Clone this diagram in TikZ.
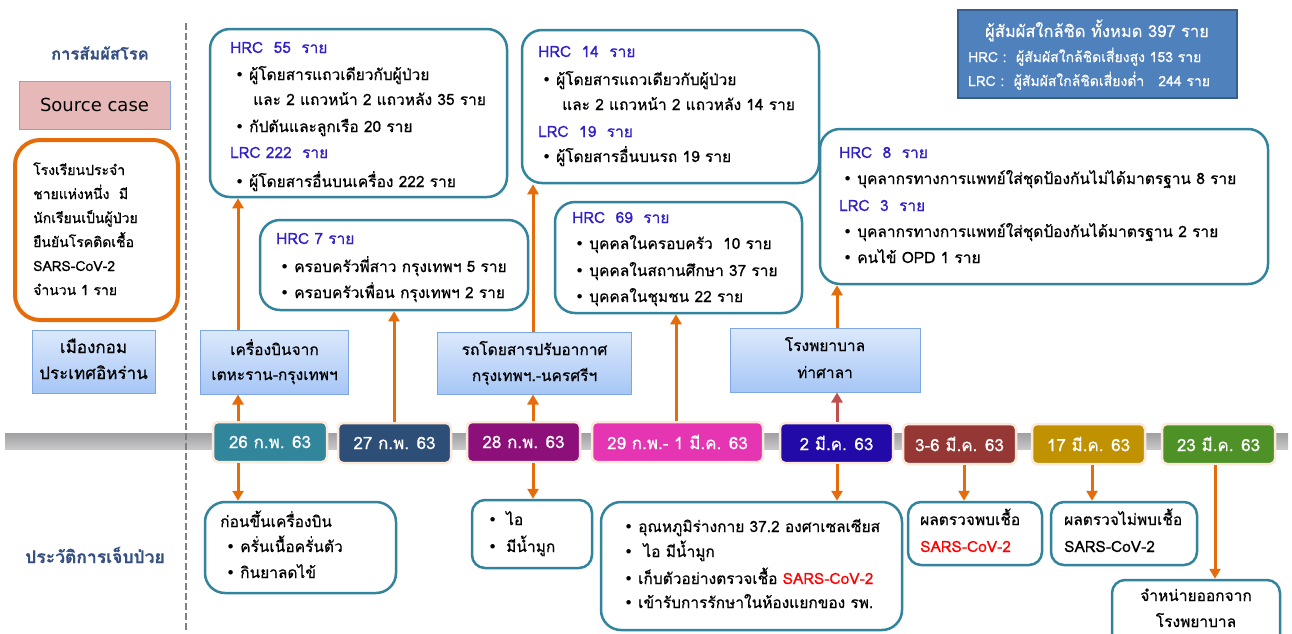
\documentclass[tikz,border=0pt]{standalone}
\usepackage{fontspec}
\setmainfont[Script=Thai,FakeBold=0.6]{Loma}
\newfontfamily\dv{DejaVu Sans}
\usetikzlibrary{arrows.meta}
\definecolor{tealb}{RGB}{49,132,155}
\definecolor{hrcc}{RGB}{48,32,200}
\definecolor{headc}{RGB}{55,80,130}
\definecolor{orng}{RGB}{228,108,10}
\definecolor{redarr}{RGB}{192,80,77}
\definecolor{peach}{RGB}{253,233,217}
\definecolor{lbtop}{RGB}{220,233,252}
\definecolor{lbbot}{RGB}{166,198,246}
\definecolor{lbdraw}{RGB}{126,166,224}
\definecolor{sumfill}{RGB}{79,129,189}
\definecolor{sumdraw}{RGB}{56,93,138}
\definecolor{srcfill}{RGB}{230,184,183}
\definecolor{dA}{RGB}{49,134,156}
\definecolor{dB}{RGB}{45,78,119}
\definecolor{dC}{RGB}{140,15,122}
\definecolor{dD}{RGB}{229,53,178}
\definecolor{dE}{RGB}{34,10,168}
\definecolor{dF}{RGB}{149,55,53}
\definecolor{dG}{RGB}{192,145,0}
\definecolor{dH}{RGB}{78,145,39}
\definecolor{sarsred}{RGB}{255,0,0}
\newcommand\bl{\makebox[14pt][l]{{\dv •}}}
\newcommand\Ln[4]{\node[txt] (#1) at (#2,#3+5) {#4};}
\newcommand\Cn[4]{\node[ctxt] (#1) at (#2,#3+5) {#4};}
\begin{document}
\begin{tikzpicture}[x=1pt,y=-1pt,
  txt/.style={anchor=base west,inner sep=0pt,font=\fontsize{15.5}{18}\selectfont},
  ctxt/.style={anchor=base,inner sep=0pt,font=\fontsize{15.5}{18}\selectfont},
  tealbox/.style={draw=tealb,line width=2.5pt,rounded corners=20pt,fill=white,inner sep=0pt},
  smallbox/.style={draw=tealb,line width=2.5pt,rounded corners=13pt,fill=white,inner sep=0pt},
  lbbox/.style={draw=lbdraw,line width=1pt,top color=lbtop,bottom color=lbbot,inner sep=0pt},
  datebox/.style={draw=peach,line width=2.5pt,rounded corners=5pt,inner sep=0pt,text=white,font=\fontsize{17}{20}\selectfont,minimum height=40pt},
  arr/.style={draw=orng,line width=3pt,-{Triangle[length=10pt,width=11pt]}},
  arrR/.style={draw=redarr,line width=3pt,-{Triangle[length=10pt,width=11pt]}}
]
\useasboundingbox (0,0) rectangle (1292,633);
\fill[white] (0,0) rectangle (1292,633);

% timeline bar
\shade[top color={rgb,255:red,160;green,160;blue,162},bottom color={rgb,255:red,200;green,200;blue,202}] (5,433) rectangle (1288,449);
% dashed separator
\draw[draw={rgb,255:red,128;green,128;blue,128},line width=2.5pt,dash pattern=on 7pt off 3pt] (186,23) -- (186,633);

% left column
\node[font=\fontsize{16.5}{18}\selectfont\bfseries,text=headc] (lblA) at (100,53) {การสัมผัสโรค};
\node[font=\fontsize{17.5}{20}\selectfont\bfseries,text=headc] (lblB) at (95,555) {ประวัติการเจ็บป่วย};
\node[draw=lbdraw,fill=srcfill,line width=1pt,minimum width=151pt,minimum height=48pt,font=\dv\fontsize{18}{22}\selectfont] (src) at (94.5,105) {Source case};
\node[draw=orng,line width=4pt,rounded corners=25pt,minimum width=163pt,minimum height=180pt] (srcbox) at (96.5,230) {};
\begin{scope}[txt/.append style={font=\fontsize{14}{16}\selectfont}]
\Ln{s1}{33}{170}{โรงเรียนประจำ}
\Ln{s2}{33}{194}{ชายแห่งหนึ่ง\ \ มี}
\Ln{s3}{33}{218}{นักเรียนเป็นผู้ป่วย}
\Ln{s4}{33}{242}{ยืนยันโรคติดเชื้อ}
\Ln{s5}{33}{266}{SARS-CoV-2}
\Ln{s6}{33}{290}{จำนวน 1 ราย}
\end{scope}
\node[lbbox,minimum width=123pt,minimum height=63pt] (kom) at (93.5,361.5) {};
\begin{scope}[ctxt/.append style={font=\fontsize{17}{20}\selectfont}]
\Cn{k1}{93.5}{348}{เมืองกอม}
\Cn{k2}{93.5}{374}{ประเทศอิหร่าน}
\end{scope}

% date boxes
\node[datebox,fill=dA,minimum width=114pt] (d26) at (270,442) {26 ก.พ. 63};
\node[datebox,fill=dB,minimum width=113pt] (d27) at (394.5,443) {27 ก.พ. 63};
\node[datebox,fill=dC,minimum width=113pt] (d28) at (523.5,442) {28 ก.พ. 63};
\node[datebox,fill=dD,minimum width=171pt] (d29) at (677.5,442) {29 ก.พ.- 1 มี.ค. 63};
\node[datebox,fill=dE,minimum width=113pt] (d2) at (836.5,443) {2 มี.ค. 63};
\node[datebox,fill=dF,minimum width=113pt] (d36) at (959.5,444) {3-6 มี.ค. 63};
\node[datebox,fill=dG,minimum width=113pt] (d17) at (1088.5,444) {17 มี.ค. 63};
\node[datebox,fill=dH,minimum width=113pt] (d23) at (1218.5,444) {23 มี.ค. 63};

% upper boxes
\node[tealbox,minimum width=297pt,minimum height=168pt] (hrc55) at (358.5,113) {};
\Ln{a1}{230}{48}{\textcolor{hrcc}{HRC\ \ 55\ \ ราย}}
\Ln{a2}{235}{75}{\bl ผู้โดยสารแถวเดียวกับผู้ป่วย}
\Ln{a3}{253}{100}{และ 2 แถวหน้า 2 แถวหลัง 35 ราย}
\Ln{a4}{235}{127}{\bl กัปตันและลูกเรือ 20 ราย}
\Ln{a5}{230}{153}{\textcolor{hrcc}{LRC 222\ \ ราย}}
\Ln{a6}{235}{182}{\bl ผู้โดยสารอื่นบนเครื่อง 222 ราย}

\node[tealbox,minimum width=297pt,minimum height=153pt] (hrc14) at (670.5,106.5) {};
\Ln{b1}{538}{52}{\textcolor{hrcc}{HRC\ \ 14\ \ ราย}}
\Ln{b2}{542}{80}{\bl ผู้โดยสารแถวเดียวกับผู้ป่วย}
\Ln{b3}{562}{105}{และ 2 แถวหน้า 2 แถวหลัง 14 ราย}
\Ln{b4}{538}{132}{\textcolor{hrcc}{LRC\ \ 19\ \ ราย}}
\Ln{b5}{542}{157}{\bl ผู้โดยสารอื่นบนรถ 19 ราย}

\node[draw=sumdraw,fill=sumfill,line width=2pt,minimum width=279pt,minimum height=88pt,inner sep=0pt] (sum) at (1097.5,54) {};
\node[ctxt,text=white,font=\fontsize{16.5}{18}\selectfont] (c1) at (1097,32+5) {ผู้สัมผัสใกล้ชิด ทั้งหมด 397 ราย};
\begin{scope}[txt/.append style={font=\fontsize{14}{16}\selectfont}]
\Ln{c2}{968}{57}{\textcolor{white}{HRC :\ \ ผู้สัมผัสใกล้ชิดเสี่ยงสูง 153 ราย}}
\Ln{c3}{968}{81}{\textcolor{white}{LRC :\ \ ผู้สัมผัสใกล้ชิดเสี่ยงต่ำ\ \ \ 244 ราย}}
\end{scope}

\node[tealbox,minimum width=448pt,minimum height=155pt] (hrc8) at (1044,206.5) {};
\Ln{e1}{839}{153}{\textcolor{hrcc}{HRC\ \ 8\ \ ราย}}
\Ln{e2}{843}{179}{\bl บุคลากรทางการแพทย์ใส่ชุดป้องกันไม่ได้มาตรฐาน 8 ราย}
\Ln{e3}{839}{206}{\textcolor{hrcc}{LRC\ \ 3\ \ ราย}}
\Ln{e4}{843}{232}{\bl บุคลากรทางการแพทย์ใส่ชุดป้องกันได้มาตรฐาน 2 ราย}
\Ln{e5}{843}{258}{\bl คนไข้ OPD 1 ราย}

\node[tealbox,minimum width=268pt,minimum height=90pt] (hrc7) at (394,265) {};
\Ln{f1}{276}{239}{\textcolor{hrcc}{HRC 7 ราย}}
\Ln{f2}{280}{267}{\bl ครอบครัวพี่สาว กรุงเทพฯ 5 ราย}
\Ln{f3}{280}{293}{\bl ครอบครัวเพื่อน กรุงเทพฯ 2 ราย}

\node[tealbox,minimum width=247pt,minimum height=111pt] (hrc69) at (678.5,257.5) {};
\Ln{g1}{572}{218}{\textcolor{hrcc}{HRC\ \ 69\ \ ราย}}
\Ln{g2}{575}{244}{\bl บุคคลในครอบครัว\ \ 10 ราย}
\Ln{g3}{575}{271}{\bl บุคคลในสถานศึกษา 37 ราย}
\Ln{g4}{575}{297}{\bl บุคคลในชุมชน 22 ราย}

% light blue boxes
\node[lbbox,minimum width=148pt,minimum height=64pt] (plane) at (274,362) {};
\Cn{p1}{274.5}{350}{เครื่องบินจาก}
\Cn{p2}{274.5}{375}{เตหะราน-กรุงเทพฯ}
\node[lbbox,minimum width=194pt,minimum height=62pt] (bus) at (534,363) {};
\Cn{q1}{534.5}{350}{รถโดยสารปรับอากาศ}
\Cn{q2}{534.5}{376}{กรุงเทพฯ.-นครศรีฯ}
\node[lbbox,minimum width=190pt,minimum height=64pt] (hosp) at (825,360) {};
\Cn{r1}{825}{346}{โรงพยาบาล}
\Cn{r2}{825}{373}{ท่าศาลา}

% lower boxes
\node[tealbox,minimum width=191pt,minimum height=91pt] (before) at (300.5,547.5) {};
\Ln{h1}{220}{522}{ก่อนขึ้นเครื่องบิน}
\Ln{h2}{226}{547}{\bl ครั่นเนื้อครั่นตัว}
\Ln{h3}{226}{573}{\bl กินยาลดไข้}

\node[smallbox,minimum width=120pt,minimum height=68pt] (cough) at (532,534) {};
\Ln{i1}{488}{520}{\makebox[18pt][l]{{\dv •}}ไอ}
\Ln{i2}{488}{547}{\makebox[18pt][l]{{\dv •}}มีน้ำมูก}

\node[tealbox,minimum width=301pt,minimum height=128pt] (big) at (751.5,566) {};
\Ln{j1}{624}{527}{\bl อุณหภูมิร่างกาย 37.2 องศาเซลเซียส}
\Ln{j2}{624}{552}{\bl\ ไอ มีน้ำมูก}
\Ln{j3}{624}{579}{\bl เก็บตัวอย่างตรวจเชื้อ \textcolor{sarsred}{SARS-CoV-2}}
\Ln{j4}{624}{603}{\bl เข้ารับการรักษาในห้องแยกของ รพ.}

\node[smallbox,minimum width=134pt,minimum height=63pt] (pos) at (975,533.5) {};
\Ln{m1}{920}{520}{ผลตรวจพบเชื้อ}
\Ln{m2}{920}{547}{\textcolor{sarsred}{SARS-CoV-2}}

\node[smallbox,minimum width=146pt,minimum height=63pt] (neg) at (1124,533.5) {};
\Ln{n1}{1064}{520}{ผลตรวจไม่พบเชื้อ}
\Ln{n2}{1064}{547}{SARS-CoV-2}

\node[smallbox,minimum width=168pt,minimum height=80pt] (dis) at (1196,620) {};
\Cn{o1}{1196}{596}{จำหน่ายออกจาก}
\Cn{o2}{1196}{622}{โรงพยาบาล}

% arrow columns
\coordinate (c26) at (238,0);
\coordinate (c27) at (394,0);
\coordinate (c28) at (533,0);
\coordinate (c29) at (676,0);
\coordinate (c2) at (837,0);
\coordinate (c36) at (964,0);
\coordinate (c17) at (1092,0);
\coordinate (c23) at (1215,0);

\draw[arr] (c26 |- d26.north) -- (c26 |- plane.south);
\draw[arr] (c26 |- plane.north) -- (c26 |- hrc55.south);
\draw[arr] (c27 |- d27.north) -- (c27 |- hrc7.south);
\draw[arr] (c28 |- d28.north) -- (c28 |- bus.south);
\draw[arr] (c28 |- bus.north) -- (c28 |- hrc14.south);
\draw[arr] (c29 |- d29.north) -- (c29 |- hrc69.south);
\draw[arrR] (c2 |- d2.north) -- (c2 |- hosp.south);
\draw[arr] (c2 |- hosp.north) -- (c2 |- hrc8.south);

\draw[arr] (c26 |- d26.south) -- (c26 |- before.north);
\draw[arr] (c28 |- d28.south) -- (c28 |- cough.north);
\draw[arr] (c2 |- d2.south) -- (c2 |- big.north);
\draw[arr] (c36 |- d36.south) -- (c36 |- pos.north);
\draw[arr] (c17 |- d17.south) -- (c17 |- neg.north);
\draw[arr] (c23 |- d23.south) -- (c23 |- dis.north);
\end{tikzpicture}
\end{document}
